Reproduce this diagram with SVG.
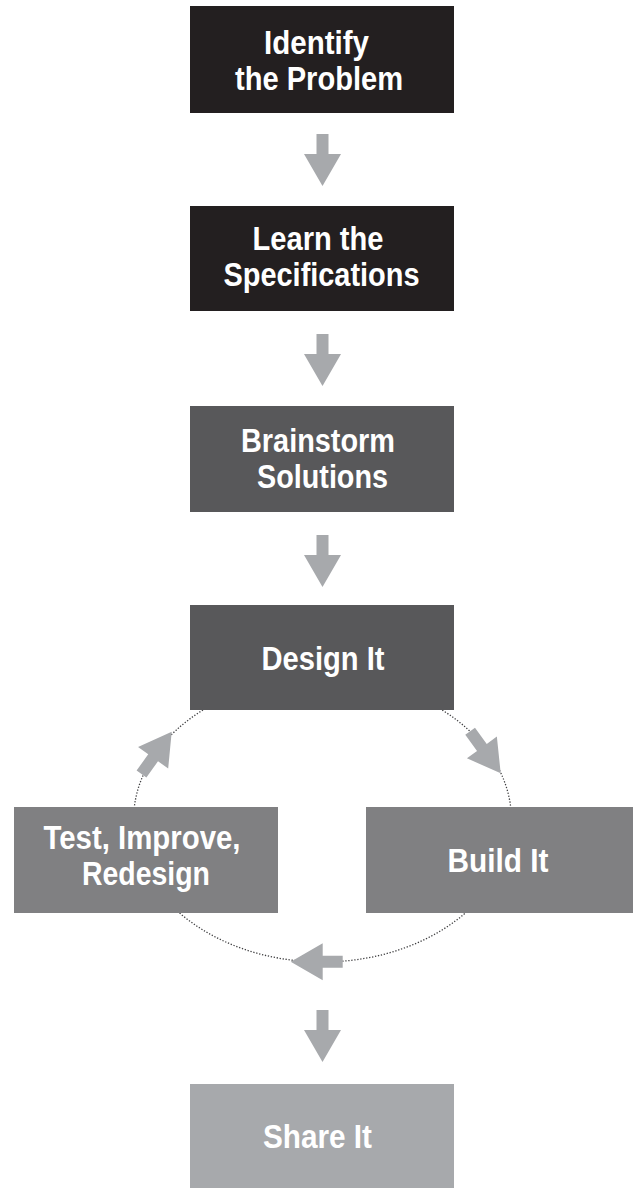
<svg xmlns="http://www.w3.org/2000/svg" width="633" height="1188" viewBox="0 0 633 1188">
  <style>
    .lbl { font-family: "Liberation Sans", Arial, sans-serif; font-weight: bold; font-size: 34px; fill: #ffffff; text-anchor: middle; }
    .arrow { fill: #a7a9ac; }
    .loop { fill: none; stroke: #3f3f41; stroke-width: 1.3; stroke-dasharray: 1.3 1.7; }
    .k1 { fill: #231f20; }
    .k2 { fill: #58585a; }
    .k3 { fill: #808082; }
    .k4 { fill: #a7a9ac; }
  </style>
  <defs>
    <path id="arr" d="M-6,-52 H6 V-32 H18.5 L0,0 L-18.5,-32 H-6 Z"/>
  </defs>
  <rect width="633" height="1188" fill="#ffffff"/>

  <g id="connectors">
    <ellipse class="loop" cx="322.5" cy="820" rx="189" ry="142"/>
    <use href="#arr" class="arrow" transform="translate(322.5,186)"/>
    <use href="#arr" class="arrow" transform="translate(322.5,386)"/>
    <use href="#arr" class="arrow" transform="translate(322.5,587)"/>
    <use href="#arr" class="arrow" transform="translate(500.7,773.3) rotate(-36)"/>
    <use href="#arr" class="arrow" transform="translate(290.7,961.7) rotate(90)"/>
    <use href="#arr" class="arrow" transform="translate(171.7,731.7) rotate(-144.5)"/>
    <use href="#arr" class="arrow" transform="translate(322.5,1062)"/>
  </g>

  <g id="identify">
    <rect class="k1" x="190" y="6" width="264" height="107"/>
    <text class="lbl"><tspan x="316.5" y="53.5" textLength="105" lengthAdjust="spacingAndGlyphs">Identify</tspan><tspan x="319" y="90" textLength="168" lengthAdjust="spacingAndGlyphs">the Problem</tspan></text>
  </g>

  <g id="learn">
    <rect class="k1" x="190" y="206" width="264" height="105"/>
    <text class="lbl"><tspan x="318" y="250" textLength="131" lengthAdjust="spacingAndGlyphs">Learn the</tspan><tspan x="321.5" y="286" textLength="196" lengthAdjust="spacingAndGlyphs">Specifications</tspan></text>
  </g>

  <g id="brainstorm">
    <rect class="k2" x="190" y="406" width="264" height="106"/>
    <text class="lbl"><tspan x="318" y="452" textLength="154" lengthAdjust="spacingAndGlyphs">Brainstorm</tspan><tspan x="322.5" y="488" textLength="131" lengthAdjust="spacingAndGlyphs">Solutions</tspan></text>
  </g>

  <g id="design">
    <rect class="k2" x="190" y="605" width="264" height="105"/>
    <text class="lbl" x="323" y="669.5" textLength="123" lengthAdjust="spacingAndGlyphs">Design It</text>
  </g>

  <g id="test">
    <rect class="k3" x="14" y="807" width="264" height="106"/>
    <text class="lbl"><tspan x="142" y="848.5" textLength="197" lengthAdjust="spacingAndGlyphs">Test, Improve,</tspan><tspan x="146" y="885" textLength="128" lengthAdjust="spacingAndGlyphs">Redesign</tspan></text>
  </g>

  <g id="build">
    <rect class="k3" x="366" y="807" width="267" height="106"/>
    <text class="lbl" x="498" y="872" textLength="101" lengthAdjust="spacingAndGlyphs">Build It</text>
  </g>

  <g id="share">
    <rect class="k4" x="190" y="1084" width="264" height="104"/>
    <text class="lbl" x="317.5" y="1147.5" textLength="109" lengthAdjust="spacingAndGlyphs">Share It</text>
  </g>
</svg>
